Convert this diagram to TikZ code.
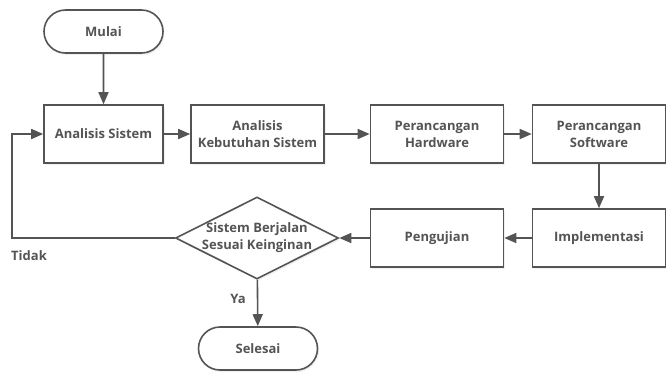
\documentclass[tikz,border=0pt]{standalone}
\usepackage{fontspec}
\setmainfont{Open Sans}
\usetikzlibrary{arrows.meta,shapes.geometric,shapes.misc,shadows}
\definecolor{ink}{HTML}{545454}
\tikzset{
  base/.style={draw=ink, line width=1.6pt, fill=white, text=ink, font=\bfseries\fontsize{13}{17}\selectfont, align=center, inner sep=0pt,
    drop shadow={opacity=0.12, shadow xshift=1.5pt, shadow yshift=-2pt}},
  procbox/.style={base, rectangle, minimum width=133pt, minimum height=58pt},
  term/.style={base, rounded rectangle, minimum width=119pt, minimum height=43pt},
  conn/.style={draw=ink, line width=1.6pt, -{Triangle[length=12pt,width=10pt]}},
  lbl/.style={text=ink, font=\bfseries\fontsize{13}{17}\selectfont}
}
\begin{document}
\begin{tikzpicture}[x=1pt,y=-1pt]
\useasboundingbox (0,0) rectangle (666,376);
\node[term] (mulai) at (103.5,31.5) {Mulai};
\node[procbox, minimum width=119pt] (as) at (103.5,134) {Analisis Sistem};
\node[procbox] (akb) at (257.5,134) {Analisis\\Kebutuhan Sistem};
\node[procbox] (ph) at (437,134) {Perancangan\\Hardware};
\node[procbox] (ps) at (599,134) {Perancangan\\Software};
\node[procbox] (imp) at (599,238) {Implementasi};
\node[procbox] (uji) at (437,238) {Pengujian};
\node[base, diamond, minimum width=163pt, minimum height=82pt, aspect=2] (dec) at (257,238) {};
\node[text=ink, font=\bfseries\fontsize{13}{17}\selectfont, align=center] (dectxt) at (dec.center) {Sistem Berjalan\\Sesuai Keinginan};
\node[term] (selesai) at (258,348.5) {Selesai};
\coordinate (c1) at (12,238);
\coordinate (c2) at (12,134);
\draw[conn] (mulai) -- (as);
\draw[conn] (as) -- (akb);
\draw[conn] (akb) -- (ph);
\draw[conn] (ph) -- (ps);
\draw[conn] (ps) -- (imp);
\draw[conn] (imp) -- (uji);
\draw[conn] (uji) -- (dec);
\draw[conn] (dec) -- (selesai);
\draw[conn] (dec.west) -- (c1) -- (c2) -- (as.west);
\node[lbl] (tidak) at (29,256) {Tidak};
\node[lbl] (ya) at (238,299) {Ya};
\end{tikzpicture}
\end{document}
